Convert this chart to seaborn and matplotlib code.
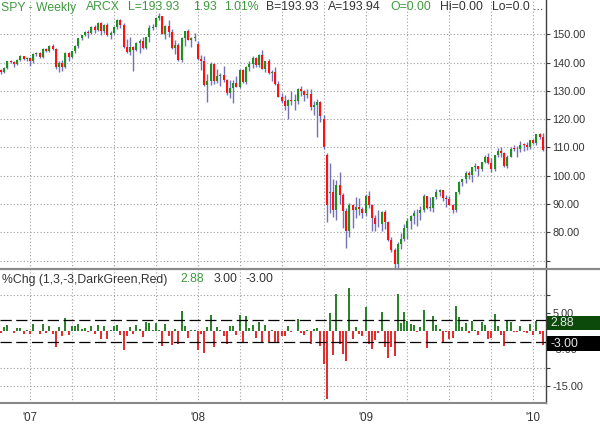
import numpy as np
import pandas as pd
import seaborn as sns
import matplotlib
matplotlib.use("Agg")
import matplotlib.pyplot as plt
from matplotlib.lines import Line2D
from matplotlib.patches import Rectangle

# weekly SPY bars, Oct 27 2006 .. Jan 22 2010
opens = [
    138.0, 137.3, 136.6, 138.2, 140.4, 140.3, 139.6, 141.0, 142.3, 141.2,
    141.6, 140.5, 143.2, 143.3, 142.1, 144.8, 144.0, 146.0, 144.9, 138.4,
    140.0, 138.3, 143.5, 142.0, 144.0, 145.9, 148.6, 149.6, 150.9, 150.6,
    152.6, 151.6, 154.1, 151.0, 153.2, 149.7, 150.4, 152.5, 155.2, 153.4,
    145.6, 143.8, 145.6, 144.5, 146.9, 147.6, 145.1, 148.9, 152.3, 152.6,
    155.9, 156.3, 150.0, 153.0, 150.8, 145.2, 146.2, 141.0, 148.7, 151.0,
    148.1, 148.7, 146.5, 141.3, 140.4, 132.1, 133.6, 139.5, 133.6, 135.3,
    135.6, 133.8, 129.2, 131.0, 132.9, 131.5, 137.4, 133.1, 138.5, 139.6,
    141.8, 139.1, 142.7, 137.9, 140.4, 136.3, 136.6, 132.3, 128.0, 126.3,
    124.8, 126.6, 126.4, 126.4, 130.8, 130.1, 128.6, 128.9, 124.2, 125.0,
    126.2, 120.2, 107.4, 93.9, 94.2, 87.9, 96.8, 93.3, 87.4, 80.3,
    89.8, 87.9, 88.9, 88.2, 87.0, 92.9, 89.6, 85.1, 83.1, 82.8,
    87.2, 83.5, 77.3, 73.9, 68.8, 75.9, 77.6, 81.6, 84.0, 85.6,
    87.0, 86.7, 87.8, 92.9, 88.6, 88.7, 92.5, 94.2, 94.8, 92.1,
    91.9, 89.8, 88.0, 94.2, 97.8, 98.8, 101.0, 100.4, 103.1, 103.4,
    102.4, 104.9, 106.7, 104.4, 102.5, 107.3, 108.9, 107.9, 103.6, 106.8,
    109.6, 109.4, 109.3, 111.0, 110.8, 110.2, 112.5, 111.4, 114.6, 113.6,
]
highs = [
    138.4, 137.6, 138.4, 140.6, 140.9, 140.5, 141.4, 142.6, 142.5, 142.0,
    142.0, 143.4, 143.6, 143.9, 145.0, 145.3, 146.1, 146.4, 145.0, 140.6,
    141.0, 143.9, 143.8, 144.2, 146.1, 148.8, 149.9, 151.2, 151.5, 152.8,
    153.2, 154.4, 154.5, 153.5, 154.0, 151.2, 152.8, 155.5, 155.5, 154.0,
    148.5, 149.0, 146.0, 147.3, 148.3, 149.0, 149.0, 153.3, 153.5, 156.0,
    157.5, 156.5, 153.3, 155.0, 152.0, 148.0, 146.8, 149.0, 151.3, 152.0,
    149.2, 150.3, 147.5, 142.8, 142.3, 136.0, 140.2, 139.9, 137.7, 136.3,
    138.9, 134.2, 133.7, 134.0, 135.3, 137.9, 137.9, 138.8, 140.5, 142.5,
    142.1, 143.0, 144.4, 140.6, 141.4, 137.4, 138.3, 133.4, 129.3, 128.5,
    127.1, 129.9, 128.9, 131.0, 131.6, 130.4, 130.7, 130.7, 126.5, 127.0,
    126.5, 121.5, 108.0, 104.4, 99.0, 98.5, 101.3, 94.0, 88.5, 90.3,
    90.0, 92.6, 92.0, 88.8, 93.4, 94.7, 90.0, 86.0, 88.0, 87.6,
    88.0, 84.0, 78.5, 74.5, 76.5, 79.9, 83.0, 85.0, 86.0, 88.0,
    88.3, 89.2, 93.4, 93.0, 92.4, 92.6, 95.2, 95.4, 95.0, 93.3,
    93.0, 90.0, 94.4, 98.0, 99.0, 101.6, 101.5, 103.2, 104.4, 103.5,
    105.0, 107.4, 107.9, 106.3, 107.5, 109.7, 110.2, 108.3, 107.3, 110.0,
    111.0, 110.5, 112.4, 111.6, 112.0, 112.5, 113.0, 114.7, 115.1, 115.1,
]
lows = [
    136.6, 136.0, 136.4, 137.9, 139.8, 138.3, 139.3, 140.6, 140.9, 140.7,
    138.9, 139.8, 142.4, 141.6, 141.8, 143.9, 143.8, 144.6, 137.9, 136.8,
    136.9, 138.0, 140.7, 141.5, 143.3, 145.0, 147.9, 149.3, 148.8, 150.0,
    150.6, 151.3, 149.9, 150.6, 149.4, 148.4, 150.0, 151.8, 152.1, 145.0,
    143.5, 142.6, 137.0, 144.0, 143.4, 144.8, 144.9, 147.4, 151.6, 152.5,
    155.0, 150.0, 148.5, 149.2, 144.9, 142.9, 140.5, 140.1, 146.0, 147.9,
    145.4, 147.6, 140.9, 137.3, 131.8, 126.1, 132.0, 132.5, 132.7, 131.7,
    133.2, 128.6, 127.4, 125.7, 131.3, 130.9, 132.8, 132.3, 137.2, 138.2,
    138.3, 138.5, 137.8, 136.5, 136.1, 133.5, 132.0, 127.7, 125.8, 123.2,
    119.9, 124.9, 123.3, 125.3, 128.3, 126.5, 127.4, 123.3, 121.6, 113.8,
    119.0, 109.6, 83.6, 86.9, 85.5, 84.3, 90.0, 81.6, 74.3, 78.5,
    81.6, 85.0, 86.2, 85.2, 85.9, 88.7, 80.6, 80.4, 82.0, 80.6,
    81.1, 76.8, 72.9, 67.1, 67.5, 74.0, 76.9, 77.7, 81.0, 83.0,
    82.3, 84.5, 87.3, 88.3, 87.5, 87.3, 91.8, 93.0, 90.9, 89.1,
    89.5, 87.0, 87.3, 93.4, 96.2, 97.4, 98.7, 97.8, 101.8, 99.8,
    101.6, 104.6, 104.1, 101.4, 101.8, 106.6, 106.6, 103.2, 102.8, 106.5,
    108.7, 106.7, 108.5, 108.8, 109.2, 109.6, 111.3, 111.0, 113.0, 108.9,
]
closes = [
    137.3, 136.6, 138.2, 140.4, 140.3, 139.6, 141.0, 142.3, 141.2, 141.6,
    140.5, 143.2, 143.3, 142.1, 144.8, 144.0, 146.0, 144.9, 138.4, 140.0,
    138.3, 143.5, 142.0, 144.0, 145.9, 148.6, 149.6, 150.9, 150.6, 152.6,
    151.6, 154.1, 151.0, 153.2, 149.7, 150.4, 152.5, 155.2, 153.4, 145.6,
    143.8, 145.6, 144.5, 146.9, 147.6, 145.1, 148.9, 152.3, 152.6, 155.9,
    156.3, 150.0, 153.0, 150.8, 145.2, 146.2, 141.0, 148.7, 151.0, 148.1,
    148.7, 149.1, 141.3, 140.4, 132.1, 133.6, 139.5, 133.6, 135.3, 135.6,
    133.8, 129.2, 131.0, 132.9, 131.5, 137.4, 133.1, 138.5, 139.6, 141.8,
    139.1, 142.7, 137.9, 140.4, 136.3, 136.6, 132.3, 128.0, 126.3, 124.8,
    126.6, 126.4, 126.4, 130.8, 130.1, 128.6, 128.9, 124.2, 125.0, 126.2,
    121.2, 110.3, 89.8, 94.2, 87.9, 96.8, 93.3, 87.4, 80.3, 89.8,
    87.9, 88.9, 88.2, 87.0, 92.9, 89.6, 85.1, 83.1, 82.8, 87.2,
    83.5, 77.3, 73.9, 68.8, 75.9, 77.6, 81.6, 84.0, 85.6, 87.0,
    86.7, 87.8, 92.9, 88.6, 88.7, 92.5, 94.2, 94.8, 92.1, 91.9,
    89.8, 88.0, 94.2, 97.8, 98.8, 101.0, 100.4, 103.1, 103.4, 102.4,
    104.9, 106.7, 104.4, 102.5, 107.3, 108.9, 107.9, 103.6, 106.8, 109.6,
    109.4, 109.3, 111.0, 110.8, 110.2, 112.5, 111.4, 114.6, 113.6, 109.2,
]
weeks = pd.date_range("2006-10-27", periods=len(closes), freq="W-FRI")

price_ticks = [70, 80, 90, 100, 110, 120, 130, 140, 150]
pct_ticks = [10, 5, -5, -10, -15]
pct_labels = ["", "5.00", "-5.00", "", "-15.00"]

UP, DOWN = "#1f8f1f", "#ff1010"
WICK = "#7272b4"
TXT_G, TXT_D = "#3f9a3f", "#333333"
GRID = "#a0a0a0"

sns.set_style("white")
plt.rcParams["font.family"] = ["Liberation Sans", "DejaVu Sans"]

W, H = 600, 426
fig = plt.figure(figsize=(W / 100, H / 100), dpi=100)
sep_y, bot_y, right_x = 269.3, 403.3, 546
ax1 = fig.add_axes([0, 1 - sep_y / H, right_x / W, sep_y / H])
ax2 = fig.add_axes([0, 1 - bot_y / H, right_x / W, (bot_y - sep_y) / H], sharex=ax1)

o = np.array(opens); h = np.array(highs); l = np.array(lows); c = np.array(closes)
x = np.arange(len(c))

# candles
ax1.vlines(x, l, h, color=WICK, lw=1, zorder=2)
body_col = [UP if cc >= oo else DOWN for oo, cc in zip(o, c)]
body_h = np.maximum(np.abs(c - o), 0.25)
ax1.bar(x, body_h, bottom=np.minimum(o, c), width=0.62, color=body_col,
        linewidth=0, zorder=3)

# %Chg indicator
pct = np.r_[0.0, np.diff(c) / c[:-1] * 100]
chg = pd.DataFrame({"x": x, "pct": pct,
                    "dir": np.where(pct >= 0, "up", "down")})
sns.barplot(data=chg, x="x", y="pct", hue="dir", palette={"up": UP, "down": DOWN},
            native_scale=True, dodge=False, legend=False, errorbar=None,
            width=0.62, linewidth=0, ax=ax2, zorder=3)
ax2.set_xlabel("")
ax2.set_ylabel("")
for lvl in (3, -3):
    ax2.axhline(lvl, color="black", lw=0.9, ls=(0, (9, 3.6)), zorder=4)
for lvl in (10, -10, -15):
    ax2.axhline(lvl, color=GRID, lw=0.8, ls=(0, (1, 2)), zorder=1)

# quarter grid / year labels
quarters = pd.date_range("2007-01-01", "2010-01-01", freq="QS")
q_idx = [int(np.searchsorted(weeks, q)) for q in quarters]
q_lab = ["'" + q.strftime("%y") if q.month == 1 else "" for q in quarters]

ax1.set_xlim(0.70, 169.95)
ax1.set_ylim(66.92, 162.13)
ax2.set_ylim(-19.86, 17.05)

ax1.set_xticks(q_idx)
ax2.set_xticks(q_idx)
ax2.set_xticklabels(q_lab)
ax1.set_yticks(price_ticks)
ax1.set_yticklabels([""] + [f"{v:.2f}" for v in price_ticks[1:]])
ax2.set_yticks(pct_ticks)
ax2.set_yticklabels(pct_labels)

for ax in (ax1, ax2):
    ax.set_facecolor("white")
    ax.grid(True, axis="x", color=GRID, lw=0.8, ls=(0, (1, 2)), zorder=1)
    ax.yaxis.tick_right()
    ax.tick_params(axis="y", length=3, width=0.8, color="#404040", pad=1.5,
                   labelsize=7.8, labelcolor=TXT_D)
    for s in ("top", "left", "bottom"):
        ax.spines[s].set_visible(False)
    ax.spines["right"].set_color("#404040")
    ax.spines["right"].set_linewidth(1.0)
ax1.grid(True, axis="y", color=GRID, lw=0.8, ls=(0, (1, 2)), zorder=1)
ax1.tick_params(axis="x", length=0, labelbottom=False)
ax2.spines["bottom"].set_visible(True)
ax2.spines["bottom"].set_color("#888888")
ax2.spines["bottom"].set_linewidth(1.5)
ax2.tick_params(axis="x", length=3.5, width=0.8, color="#404040", pad=2.5,
                labelsize=8.3, labelcolor=TXT_D)

# panel separator
fig.add_artist(Line2D([0, 1], [1 - sep_y / H] * 2, transform=fig.transFigure,
                      color="#8a8a8a", lw=1.6))

def px(xp, yp):
    return xp / W, 1 - yp / H

# header texts
head = [("SPY - Weekly", 1, TXT_G), ("ARCX", 85.7, TXT_G), ("L=193.93", 128.3, TXT_G),
        ("1.93", 192.7, TXT_G), ("1.01%", 224.3, TXT_G), ("B=193.93", 265.7, TXT_D),
        ("A=193.94", 328.3, TXT_D), ("O=0.00", 390, TXT_G), ("Hi=0.00", 440, TXT_D),
        ("Lo=0.0 ...", 491.7, TXT_D)]
for s, xp, col in head:
    fig.text(*px(xp, 10.5), s, color=col, fontsize=8.8, va="baseline", ha="left")

sub = [("%Chg (1,3,-3,DarkGreen,Red)", 2.5, TXT_D), ("2.88", 180, TXT_G),
       ("3.00", 213.3, TXT_D), ("-3.00", 246, TXT_D)]
for s, xp, col in sub:
    fig.text(*px(xp, 282.5), s, color=col, fontsize=8.8, va="baseline", ha="left")

# last-value boxes on the right scale
for y0, y1, fc, s in [(315.7, 330.0, "#0b4a0b", "2.88"), (336.0, 350.7, "#000000", "-3.00")]:
    fig.add_artist(Rectangle(px(right_x + 0.5, y1), (W - right_x) / W, (y1 - y0) / H,
                             transform=fig.transFigure, facecolor=fc, edgecolor="none",
                             zorder=10))
    fig.text(*px(550.5, (y0 + y1) / 2 + 0.5), s, color="#e8e8e8", fontsize=8.8,
             va="center", ha="left", zorder=11)

fig.savefig("out.png", dpi=100, facecolor="white")
